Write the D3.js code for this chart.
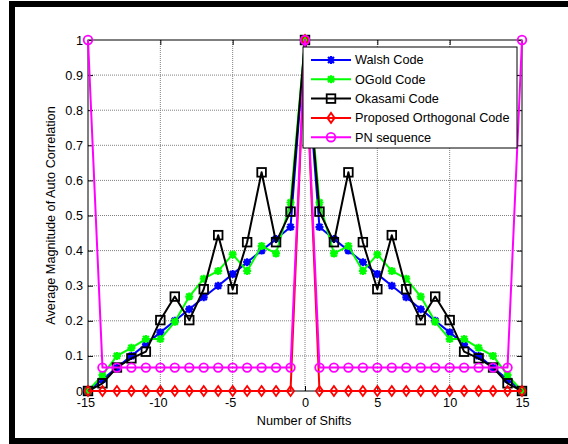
<!DOCTYPE html>
<html>
<head>
<meta charset="utf-8">
<script src="https://cdn.jsdelivr.net/npm/d3@7"></script>
<style>
  html, body { margin: 0; padding: 0; background: #fff; }
  svg { display: block; }
  text { font-family: "Liberation Sans", Arial, sans-serif; }
</style>
</head>
<body>
<svg id="chart" width="568" height="444"></svg>
<script>
// ---------- data ----------
const shifts = [-15,-14,-13,-12,-11,-10,-9,-8,-7,-6,-5,-4,-3,-2,-1,0,1,2,3,4,5,6,7,8,9,10,11,12,13,14,15];
const walsh = [0,0.033,0.067,0.1,0.133,0.167,0.2,0.233,0.267,0.3,0.333,0.367,0.4,0.433,0.467,1,0.467,0.433,0.4,0.367,0.333,0.3,0.267,0.233,0.2,0.167,0.133,0.1,0.067,0.033,0];
const ogold = [0,0.045,0.1,0.123,0.148,0.148,0.197,0.269,0.32,0.342,0.389,0.342,0.413,0.392,0.537,1,0.537,0.392,0.413,0.342,0.389,0.342,0.32,0.269,0.197,0.148,0.148,0.123,0.1,0.045,0];
const okasami = [0,0.022,0.067,0.093,0.112,0.202,0.269,0.202,0.29,0.444,0.29,0.424,0.623,0.424,0.511,1,0.511,0.424,0.623,0.424,0.29,0.444,0.29,0.202,0.269,0.202,0.112,0.093,0.067,0.022,0];
const proposed = [0,0,0,0,0,0,0,0,0,0,0,0,0,0,0,1,0,0,0,0,0,0,0,0,0,0,0,0,0,0,0];
const pn = [1,0.0667,0.0667,0.0667,0.0667,0.0667,0.0667,0.0667,0.0667,0.0667,0.0667,0.0667,0.0667,0.0667,0.0667,1,0.0667,0.0667,0.0667,0.0667,0.0667,0.0667,0.0667,0.0667,0.0667,0.0667,0.0667,0.0667,0.0667,0.0667,1];
const seriesNames = ["Walsh Code","OGold Code","Okasami Code","Proposed Orthogonal Code","PN sequence"];
const xTicks = [-15,-10,-5,0,5,10,15];
const xTickLabels = ["-15","-10","-5","0","5","10","15"];
const yTicks = [0,0.1,0.2,0.3,0.4,0.5,0.6,0.7,0.8,0.9,1];
const yTickLabels = ["0","0.1","0.2","0.3","0.4","0.5","0.6","0.7","0.8","0.9","1"];
const xTitle = "Number of Shifts";
const yTitle = "Average Magnitude of Auto Correlation";

// ---------- layout ----------
const L = 88, R = 522, T = 40, B = 391;
const FS = 12.7;
const svg = d3.select("#chart");
const x = d3.scaleLinear().domain([-15, 15]).range([L, R]);
const y = d3.scaleLinear().domain([0, 1]).range([B, T]);

// outer frame (partial black border like the reference)
svg.append("rect").attr("x", 9).attr("y", 1).attr("width", 559).attr("height", 6).attr("fill", "#000");
svg.append("rect").attr("x", 9).attr("y", 1).attr("width", 6).attr("height", 443).attr("fill", "#000");
svg.append("rect").attr("x", 9).attr("y", 438).attr("width", 559).attr("height", 6).attr("fill", "#000");

// grid
const grid = svg.append("g");
grid.selectAll("line.gx").data(xTicks.slice(1, -1)).enter().append("line")
  .attr("x1", d => x(d)).attr("x2", d => x(d)).attr("y1", T).attr("y2", B)
  .attr("stroke", "#808080").attr("stroke-width", 1).attr("stroke-dasharray", "1,1");
grid.selectAll("line.gy").data(yTicks.slice(1, -1)).enter().append("line")
  .attr("x1", L).attr("x2", R).attr("y1", d => y(d)).attr("y2", d => y(d))
  .attr("stroke", "#808080").attr("stroke-width", 1).attr("stroke-dasharray", "1,1");

// axes
const xAxisB = d3.axisBottom(x).tickValues(xTicks).tickSizeInner(-5).tickSizeOuter(0).tickPadding(10)
  .tickFormat((d, i) => xTickLabels[i]);
const xAxisT = d3.axisTop(x).tickValues(xTicks).tickSizeInner(-5).tickSizeOuter(0).tickFormat("");
const yAxisL = d3.axisLeft(y).tickValues(yTicks).tickSizeInner(-5).tickSizeOuter(0).tickPadding(10)
  .tickFormat((d, i) => yTickLabels[i]);
const yAxisR = d3.axisRight(y).tickValues(yTicks).tickSizeInner(-5).tickSizeOuter(0).tickFormat("");

function styleAxis(g) {
  g.select(".domain").remove();
  g.selectAll(".tick line").attr("stroke", "#000").attr("stroke-width", 1);
  g.selectAll(".tick text").attr("fill", "#000").style("font-size", FS + "px")
    .style("font-family", "'Liberation Sans', Arial, sans-serif");
}
svg.append("g").attr("transform", `translate(0,${B})`).call(xAxisB).call(styleAxis)
  .selectAll(".tick text").attr("dy", "0.5em").attr("dx", d => d < 0 ? -2.5 : 0);
svg.append("g").attr("transform", `translate(0,${T})`).call(xAxisT).call(styleAxis);
svg.append("g").attr("transform", `translate(${L},0)`).call(yAxisL).call(styleAxis)
  .selectAll(".tick text").attr("x", -5);
svg.append("g").attr("transform", `translate(${R},0)`).call(yAxisR).call(styleAxis);

svg.append("rect").attr("x", L).attr("y", T).attr("width", R - L).attr("height", B - T)
  .attr("fill", "none").attr("stroke", "#000").attr("stroke-width", 1);

// titles
svg.append("text").attr("x", 304).attr("y", 425).attr("text-anchor", "middle")
  .style("font-size", FS + "px").attr("fill", "#000").text(xTitle);
svg.append("text").attr("transform", `translate(55,${(T + B) / 2}) rotate(-90)`).attr("text-anchor", "middle")
  .style("font-size", FS + "px").attr("fill", "#000").text(yTitle);

// markers
function asterisk(g, color) {
  const r = 4, a = 3;
  g.append("path").attr("d", `M${-r},0L${r},0M0,${-r}L0,${r}M${-a},${-a}L${a},${a}M${-a},${a}L${a},${-a}`)
    .attr("stroke", color).attr("stroke-width", 2.2).attr("fill", "none");
}
function square(g, color) {
  g.append("rect").attr("x", -4.3).attr("y", -4.3).attr("width", 8.6).attr("height", 8.6)
    .attr("stroke", color).attr("stroke-width", 1.8).attr("fill", "none");
}
function diamond(g, color) {
  g.append("path").attr("d", "M0,-5L3.6,0L0,5L-3.6,0Z")
    .attr("stroke", color).attr("stroke-width", 1.8).attr("fill", "none");
}
function circle(g, color) {
  g.append("circle").attr("r", 4.3).attr("stroke", color).attr("stroke-width", 1.8).attr("fill", "none");
}

const series = [
  { name: seriesNames[0], values: walsh, color: "#0000ff", marker: asterisk },
  { name: seriesNames[1], values: ogold, color: "#00ff00", marker: asterisk },
  { name: seriesNames[2], values: okasami, color: "#000000", marker: square },
  { name: seriesNames[3], values: proposed, color: "#ff0000", marker: diamond },
  { name: seriesNames[4], values: pn, color: "#ff00ff", marker: circle }
];

const line = d3.line().x(d => x(d[0])).y(d => y(d[1]));
series.forEach(s => {
  const pts = shifts.map((k, i) => [k, s.values[i]]);
  const g = svg.append("g");
  g.append("path").datum(pts).attr("d", line).attr("fill", "none")
    .attr("stroke", s.color).attr("stroke-width", 2).attr("stroke-linejoin", "round");
  pts.forEach(p => {
    const mg = g.append("g").attr("transform", `translate(${x(p[0])},${y(p[1])})`);
    s.marker(mg, s.color);
  });
});

// legend
const lg = svg.append("g");
lg.append("rect").attr("x", 303).attr("y", 47).attr("width", 214).attr("height", 101)
  .attr("fill", "#fff").attr("stroke", "#000").attr("stroke-width", 1);
series.forEach((s, i) => {
  const yy = 60 + i * 19.3;
  lg.append("line").attr("x1", 311).attr("x2", 351).attr("y1", yy).attr("y2", yy)
    .attr("stroke", s.color).attr("stroke-width", 2);
  const mg = lg.append("g").attr("transform", `translate(331,${yy})`);
  s.marker(mg, s.color);
  lg.append("text").attr("x", 355).attr("y", yy).attr("dy", "0.35em")
    .style("font-size", FS + "px").attr("fill", "#000").text(s.name);
});
</script>
</body>
</html>
